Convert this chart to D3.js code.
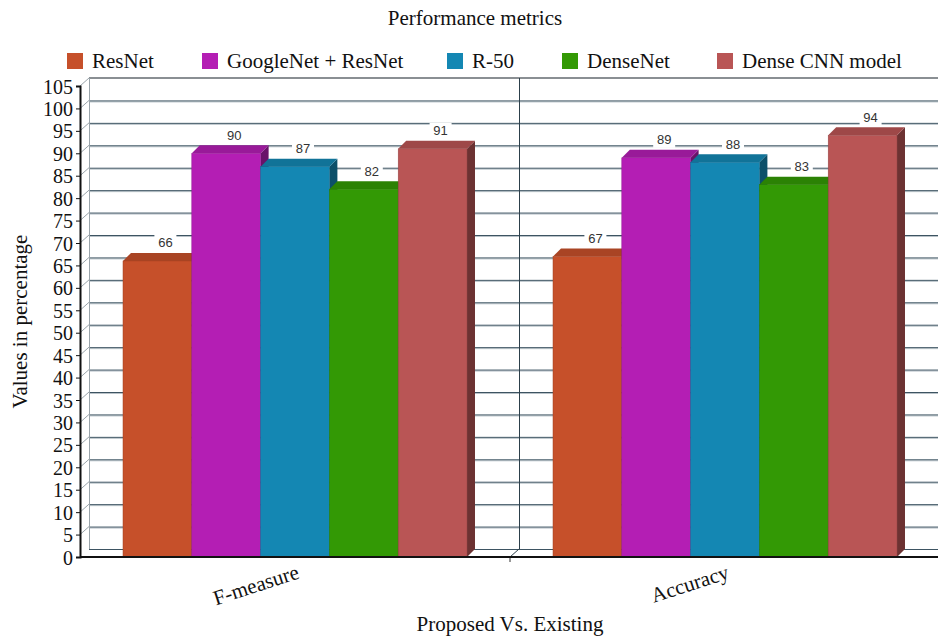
<!DOCTYPE html>
<html>
<head>
<meta charset="utf-8">
<script src="https://cdn.jsdelivr.net/npm/d3@7"></script>
<style>
  html, body { margin: 0; padding: 0; background: #fff; }
  svg { display: block; }
</style>
</head>
<body>
<svg id="chart" width="938" height="637"></svg>
<script>
// Chart data
const categories = ["F-measure", "Accuracy"];
const seriesNames = ["ResNet", "GoogleNet + ResNet", "R-50", "DenseNet", "Dense CNN model"];
const seriesColors = ["#c6502a", "#b41eb4", "#1487b3", "#339905", "#b95555"];
const resnetValues = [66, 67];
const googlenetResnetValues = [90, 89];
const r50Values = [87, 88];
const densenetValues = [82, 83];
const denseCnnValues = [91, 94];
const yTicks = d3.range(0, 106, 5);

const seriesValues = [resnetValues, googlenetResnetValues, r50Values, densenetValues, denseCnnValues];

(function drawChart() {
  const SERIF = "'Liberation Serif', 'Times New Roman', serif";
  const svg = d3.select("#chart");
  const W = 938;
  const plotLeft = 80, plotRight = 940, plotTop = 86, plotBottom = 557;
  const wallDx = 9, wallDy = -8;   // depth of the back wall
  const barDx = 8, barDy = -8;     // depth of each bar

  const y = d3.scaleLinear().domain([0, 105]).range([plotBottom, plotTop]);
  const x0 = d3.scaleBand().domain(categories).range([plotLeft, plotRight]).padding(0);
  const bw = x0.bandwidth();
  const x1 = d3.scaleBand().domain(seriesNames).range([bw * 0.1, bw * 0.9]).padding(0);

  const serifText = sel => sel.style("font-family", SERIF).attr("fill", "#111");

  // Title
  svg.append("text").call(serifText)
    .attr("x", 475).attr("y", 25).attr("text-anchor", "middle")
    .style("font-size", "21px").text("Performance metrics");

  // Legend
  const legendX = [67, 202, 447, 562, 717];
  const legend = svg.append("g");
  seriesNames.forEach((name, i) => {
    legend.append("rect").attr("x", legendX[i]).attr("y", 53)
      .attr("width", 16).attr("height", 16).attr("fill", seriesColors[i]);
    legend.append("text").call(serifText)
      .attr("x", legendX[i] + 25).attr("y", 68)
      .style("font-size", "21px").text(name);
  });

  // Back wall gridlines
  const grid = svg.append("g");
  yTicks.forEach(t => {
    const yy = y(t) + wallDy;
    if (t > 0 && t < 105) {
      grid.append("line").attr("x1", plotLeft + wallDx).attr("x2", W + 20)
        .attr("y1", yy + 1.5).attr("y2", yy + 1.5)
        .attr("stroke", "#b9c2c8").attr("stroke-width", 1);
      grid.append("line").attr("x1", plotLeft + wallDx).attr("x2", W + 20)
        .attr("y1", yy + 0.5).attr("y2", yy + 0.5)
        .attr("stroke", "#3d5462").attr("stroke-width", 1);
    }
    // left wall diagonals
    if (t > 0) {
      grid.append("line").attr("x1", plotLeft).attr("y1", y(t))
        .attr("x2", plotLeft + wallDx).attr("y2", yy)
        .attr("stroke", "#9aa4aa").attr("stroke-width", 1);
    }
  });
  // back floor line
  grid.append("line").attr("x1", plotLeft + wallDx).attr("x2", W + 20)
    .attr("y1", y(0) + wallDy + 0.5).attr("y2", y(0) + wallDy + 0.5)
    .attr("stroke", "#3d5462").attr("stroke-width", 1);
  // top border
  grid.append("line").attr("x1", plotLeft + wallDx).attr("x2", W + 20)
    .attr("y1", y(105) + wallDy).attr("y2", y(105) + wallDy)
    .attr("stroke", "#8a8f93").attr("stroke-width", 2);
  // left back edge of wall
  grid.append("line").attr("x1", plotLeft + wallDx + 0.5).attr("x2", plotLeft + wallDx + 0.5)
    .attr("y1", y(105) + wallDy).attr("y2", y(0) + wallDy)
    .attr("stroke", "#9aa4aa").attr("stroke-width", 1);
  // category divider on the back wall and floor
  categories.slice(1).forEach(c => {
    const xx = x0(c);
    grid.append("line").attr("x1", xx + wallDx + 0.5).attr("x2", xx + wallDx + 0.5)
      .attr("y1", y(105) + wallDy).attr("y2", y(0) + wallDy)
      .attr("stroke", "#2c3f4a").attr("stroke-width", 1);
    grid.append("line").attr("x1", xx).attr("y1", y(0))
      .attr("x2", xx + wallDx).attr("y2", y(0) + wallDy)
      .attr("stroke", "#2c3f4a").attr("stroke-width", 1);
    grid.append("line").attr("x1", xx).attr("x2", xx)
      .attr("y1", y(0)).attr("y2", y(0) + 5)
      .attr("stroke", "#333").attr("stroke-width", 1);
  });

  // 3D bars
  const bars = svg.append("g");
  const labelData = [];
  categories.forEach((cat, ci) => {
    seriesNames.forEach((name, si) => {
      const v = seriesValues[si][ci];
      const xl = x0(cat) + x1(name);
      const xr = xl + x1.bandwidth();
      const yt = y(v), yb = y(0);
      const base = d3.color(seriesColors[si]);
      const topCol = base.darker(0.45);
      const sideCol = base.darker(1.5);
      // side face
      bars.append("path")
        .attr("d", `M${xr},${yt} L${xr + barDx},${yt + barDy} L${xr + barDx},${yb + barDy} L${xr},${yb} Z`)
        .attr("fill", sideCol);
      // top face
      bars.append("path")
        .attr("d", `M${xl},${yt} L${xl + barDx},${yt + barDy} L${xr + barDx},${yt + barDy} L${xr},${yt} Z`)
        .attr("fill", topCol);
      // front face
      bars.append("rect").attr("x", xl).attr("y", yt)
        .attr("width", xr - xl).attr("height", yb - yt)
        .attr("fill", seriesColors[si])
        .attr("stroke", base.darker(0.6)).attr("stroke-width", 0.5);
      labelData.push({ v, cx: (xl + xr) / 2 + barDx, cy: yt + barDy - 10 });
    });
  });

  // Value labels with white backing
  const labels = svg.append("g");
  labelData.forEach(d => {
    labels.append("rect").attr("x", d.cx - 11).attr("y", d.cy - 8)
      .attr("width", 22).attr("height", 16).attr("fill", "#fff");
    labels.append("text").attr("x", d.cx).attr("y", d.cy + 4.5)
      .attr("text-anchor", "middle")
      .style("font-family", "'Liberation Sans', Arial, sans-serif")
      .style("font-size", "13px").attr("fill", "#333").text(d.v);
  });

  // Axis lines
  svg.append("line").attr("x1", plotLeft).attr("x2", W + 20)
    .attr("y1", plotBottom).attr("y2", plotBottom).attr("stroke", "#111").attr("stroke-width", 2);
  const yAxis = d3.axisLeft(y).tickValues(yTicks).tickSize(4).tickPadding(3);
  const yg = svg.append("g").attr("transform", `translate(${plotLeft},0)`).call(yAxis);
  yg.attr("font-family", null).attr("font-size", null);
  yg.select(".domain").attr("stroke", "#111").attr("stroke-width", 2);
  yg.selectAll(".tick line").attr("stroke", "#111");
  yg.selectAll(".tick text").call(serifText)
    .style("font-size", "20px")
    .attr("dy", "0.35em");

  // Category labels, rotated
  const xAxis = d3.axisBottom(x0).tickSize(0).tickPadding(0);
  const xg = svg.append("g").attr("transform", `translate(0,${plotBottom})`).call(xAxis);
  xg.attr("font-family", null).attr("font-size", null);
  xg.select(".domain").remove();
  xg.selectAll(".tick text").call(serifText)
    .style("font-size", "21px")
    .attr("text-anchor", "end")
    .attr("transform", "translate(3,14) rotate(-18)")
    .attr("y", 0).attr("dy", "0.35em");

  // Axis titles
  svg.append("text").call(serifText)
    .attr("x", (plotLeft + plotRight) / 2).attr("y", 631).attr("text-anchor", "middle")
    .style("font-size", "21px").text("Proposed Vs. Existing");
  svg.append("text").call(serifText)
    .attr("transform", `translate(27,${(plotTop + plotBottom) / 2}) rotate(-90)`)
    .attr("text-anchor", "middle")
    .style("font-size", "21px").text("Values in percentage");
})();
</script>
</body>
</html>
